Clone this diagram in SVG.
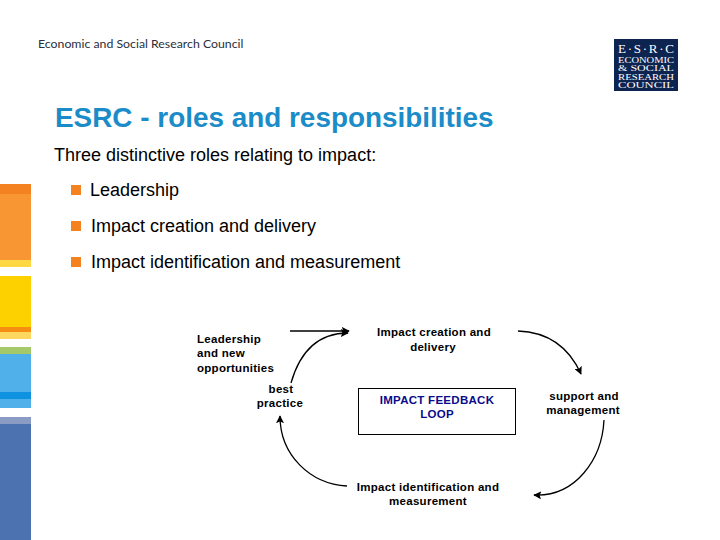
<svg xmlns="http://www.w3.org/2000/svg" width="720" height="540" viewBox="0 0 720 540">
<defs>
<marker id="ah" viewBox="0 0 10 10" refX="9" refY="5" markerWidth="8" markerHeight="8" markerUnits="userSpaceOnUse" orient="auto"><path d="M0 0L10 5L0 10L2 5Z" fill="#000"/></marker>
</defs>
<style>
text{font-family:"Liberation Sans",Arial,sans-serif;fill:#000}
.t{font-size:11.5px;font-weight:bold;letter-spacing:.28px}
.m{text-anchor:middle}
.b{font-size:18px}
.c{fill:none;stroke:#000;stroke-width:1.3}
.l{font-family:"Liberation Serif",serif;fill:#fff;text-anchor:middle}
</style>
<rect width="720" height="540" fill="#fff"/>
<g id="sidebar">
<rect x="0" y="184" width="31" height="10" fill="#f58220"/>
<rect x="0" y="194" width="31" height="66" fill="#f79632"/>
<rect x="0" y="260" width="31" height="7" fill="#fdd843"/>
<rect x="0" y="276" width="31" height="51" fill="#fdd000"/>
<rect x="0" y="327" width="31" height="5" fill="#f58f12"/>
<rect x="0" y="332" width="31" height="7" fill="#fdd860"/>
<rect x="0" y="347" width="31" height="7" fill="#a5c86a"/>
<rect x="0" y="354" width="31" height="38" fill="#4fb0ea"/>
<rect x="0" y="392" width="31" height="7" fill="#0f93e0"/>
<rect x="0" y="399" width="31" height="9" fill="#4fb0ea"/>
<rect x="0" y="417" width="31" height="7" fill="#8a9cc4"/>
<rect x="0" y="424" width="31" height="116" fill="#4d72b0"/>
</g>
<g id="header">
<text x="38" y="48" style="font-family:Lato,sans-serif;font-size:12.3px;fill:#2a2f3a">Economic and Social Research Council</text>
</g>
<g id="logo">
<rect x="614" y="39" width="64" height="52" fill="#0d2350"/>
<text class="l" x="646" y="53" font-size="13" textLength="56">E·S·R·C</text>
<text class="l" x="646" y="62.500" font-size="7.400" textLength="56" lengthAdjust="spacingAndGlyphs">ECONOMIC</text>
<text class="l" x="646" y="71" font-size="7.400" textLength="56" lengthAdjust="spacingAndGlyphs">&amp; SOCIAL</text>
<text class="l" x="646" y="79.500" font-size="7.400" textLength="56" lengthAdjust="spacingAndGlyphs">RESEARCH</text>
<text class="l" x="646" y="88" font-size="7.400" textLength="56" lengthAdjust="spacingAndGlyphs">COUNCIL</text>
</g>
<g id="title">
<text x="55" y="127" style="font-size:27.900px;font-weight:bold;fill:#1b8cc8">ESRC - roles and responsibilities</text>
<text x="54" y="161" style="font-size:18px">Three distinctive roles relating to impact:</text>
</g>
<g id="bullets">
<rect x="71" y="185" width="10" height="10" fill="#f58220"/>
<text class="b" x="90" y="196">Leadership</text>
<rect x="71" y="221" width="10" height="10" fill="#f58220"/>
<text class="b" x="91" y="232">Impact creation and delivery</text>
<rect x="71" y="257" width="10" height="10" fill="#f58220"/>
<text class="b" x="91" y="268">Impact identification and measurement</text>
</g>
<g id="connectors">
<path class="c" d="M290 331H349" marker-end="url(#ah)"/>
<path class="c" d="M291 383C299 355 315 333 348 333" marker-end="url(#ah)"/>
<path class="c" d="M518 331C545 332 568 345 581 374" marker-end="url(#ah)"/>
<path class="c" d="M604 420C602 460 575 497 534 495" marker-end="url(#ah)"/>
<path class="c" d="M347 486C310 484 280 455 280 416" marker-end="url(#ah)"/>
</g>
<g id="node-leadership">
<text class="t" x="197" y="343">Leadership</text>
<text class="t" x="197" y="357">and new</text>
<text class="t" x="197" y="372">opportunities</text>
</g>
<g id="node-creation">
<text class="t m" x="434" y="336">Impact creation and</text>
<text class="t m" x="433" y="351">delivery</text>
</g>
<g id="node-practice">
<text class="t m" x="281" y="393">best</text>
<text class="t m" x="280" y="407">practice</text>
</g>
<g id="node-loop">
<rect x="358.500" y="388.500" width="157" height="46" fill="#fff" stroke="#000"/>
<text class="t m" x="437" y="404" style="fill:#0a0a8c">IMPACT FEEDBACK</text>
<text class="t m" x="437" y="418" style="fill:#0a0a8c">LOOP</text>
</g>
<g id="node-support">
<text class="t m" x="584" y="400">support and</text>
<text class="t m" x="583" y="414">management</text>
</g>
<g id="node-identification">
<text class="t m" x="428" y="491">Impact identification and</text>
<text class="t m" x="428" y="505">measurement</text>
</g>
</svg>
